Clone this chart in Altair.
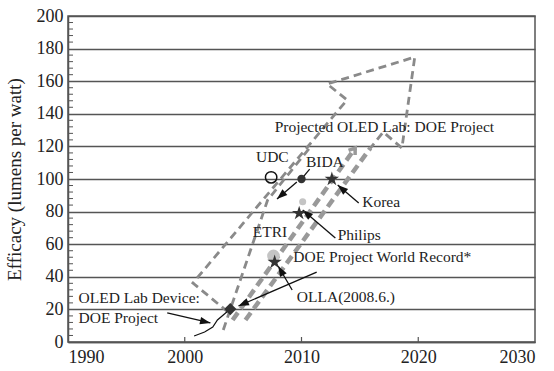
import math
import altair as alt
import pandas as pd

W, H = 467, 326
X_DOMAIN = [1990, 2030]
Y_DOMAIN = [0, 200]
PXX = W / (X_DOMAIN[1] - X_DOMAIN[0])
PXY = H / (Y_DOMAIN[1] - Y_DOMAIN[0])

x_ticks = [1990, 2000, 2010, 2020, 2030]
x_inner_ticks = [2000, 2010, 2020]
y_ticks = list(range(0, 201, 20))
y_minor = [v for v in range(0, 201, 4) if v % 20]

# dashed projection outline (big arrow)
outline_x = [2003.7, 2000.7, 2013.9, 2012.2, 2019.7, 2018.6, 2017.0, 2015.9]
outline_y = [18.4, 36.2, 148.5, 158.3, 174.8, 119.0, 128.8, 119.0]
# thick dashed trend lines
thick1_x = [2004.1, 2014.6]
thick1_y = [13.5, 119.0]
thick2_x = [2005.2, 2015.9]
thick2_y = [13.5, 119.0]
# steep dashed line
steep_x = [2003.3, 2007.1, 2010.9]
steep_y = [7.4, 87.1, 120.9]
# OLED lab device curve
device_x = [2000.8, 2001.7, 2002.4, 2002.8, 2003.4, 2003.9]
device_y = [3.7, 6.1, 9.2, 13.5, 17.2, 20.2]

# black arrows: tail -> head
arrow_x0 = [1998.5, 2009.6, 2014.9, 2012.9, 2009.2, 2011.3]
arrow_y0 = [17.8, 98.2, 85.3, 63.8, 31.9, 42.9]
arrow_x1 = [2002.2, 2007.9, 2013.1, 2010.1, 2008.0, 2004.6]
arrow_y1 = [11.7, 87.7, 96.3, 81.0, 46.6, 22.1]
# BIDA connector
conn_x = [2010.7, 2010.0]
conn_y = [106.1, 100.0]

# markers
star_x = [2012.6, 2009.8, 2007.7]
star_y = [100, 79, 49]
light_x = [2010.1, 2007.6]
light_y = [86, 52.8]
light_size = [50, 160]

label_c_text = ["UDC", "BIDA", "ETRI"]
label_c_x = [2007.5, 2012.0, 2007.3]
label_c_y = [113.5, 110.4, 67.5]
label_l_text = ["Projected OLED Lab: DOE Project", "Korea", "Philips",
                "DOE Project World Record*", "OLLA(2008.6.)",
                "OLED Lab Device:", "DOE Project"]
label_l_x = [2007.7, 2015.2, 2013.1, 2009.3, 2009.6, 1990.9, 1990.9]
label_l_y = [131.9, 85.9, 65.6, 52.1, 27.6, 27.0, 14.7]

FONT = "Liberation Serif, Times New Roman, DejaVu Serif, serif"
GRID = "#555555"
DASH = "#8a8a8a"

xs = alt.Scale(domain=X_DOMAIN, nice=False, zero=False)
ys = alt.Scale(domain=Y_DOMAIN, nice=False)

X_AXIS = alt.Axis(values=x_ticks, format="d", tickSize=0, labelPadding=6,
                  labelFont=FONT, labelFontSize=18, labelColor="#222",
                  domainColor=GRID, domainWidth=1.5, grid=False, labelOverlap=False)
Y_AXIS = alt.Axis(values=y_ticks, tickSize=0, labelPadding=5,
                  labelFont=FONT, labelFontSize=18, labelColor="#222",
                  titleFont=FONT, titleFontSize=19, titleFontWeight="normal",
                  titleColor="#222", titlePadding=12, labelOverlap=False,
                  domainColor=GRID, domainWidth=1.5,
                  grid=True, gridColor=GRID, gridWidth=1.5)
YTITLE = "Efficacy (lumens per watt)"


def XE(f="x:Q"):
    return alt.X(f, scale=xs, title=None, axis=X_AXIS)


def YE(f="y:Q"):
    return alt.Y(f, scale=ys, title=YTITLE, axis=Y_AXIS)


def path_df(xv, yv):
    return pd.DataFrame({"x": xv, "y": yv, "o": list(range(len(xv)))})


def line_layer(df, color, width, dash=None):
    kw = dict(color=color, strokeWidth=width, clip=False)
    if dash:
        kw["strokeDash"] = dash
    return alt.Chart(df).mark_line(**kw).encode(x=XE(), y=YE(), order="o:O")


minor = alt.Chart(pd.DataFrame({"y": y_minor})).mark_rule(color=GRID, strokeWidth=1).encode(
    y=YE(), x=alt.value(0), x2=alt.value(5))
xt = alt.Chart(pd.DataFrame({"x": x_inner_ticks})).mark_rule(color=GRID, strokeWidth=1.2).encode(
    x=XE(), y=alt.value(H), y2=alt.value(H - 5))

layers = [minor, xt,
          line_layer(path_df(outline_x, outline_y), DASH, 2.8, [8, 5]),
          line_layer(path_df(steep_x, steep_y), DASH, 2.8, [8, 5]),
          line_layer(path_df(thick1_x, thick1_y), "#999999", 4.5, [9, 5]),
          line_layer(path_df(thick2_x, thick2_y), "#999999", 4.5, [9, 5]),
          line_layer(path_df(device_x, device_y), "#111111", 1.2),
          line_layer(path_df(conn_x, conn_y), "#111111", 1.2)]

# chevron at top of thick line
dxp = (thick1_x[1] - thick1_x[0]) * PXX
dyp = -(thick1_y[1] - thick1_y[0]) * PXY
chev_angle = math.degrees(math.atan2(dxp, -dyp)) % 360
layers.append(alt.Chart(pd.DataFrame({"x": [thick1_x[1]], "y": [thick1_y[1]]})).mark_point(
    shape="M-0.9,1.3 L0,0 L0.9,1.3", filled=False, color="#999999", strokeWidth=3.5,
    size=80, angle=chev_angle, opacity=1).encode(x=XE(), y=YE()))

# black arrows
for x0, y0, x1, y1 in zip(arrow_x0, arrow_y0, arrow_x1, arrow_y1):
    dxp = (x1 - x0) * PXX
    dyp = -(y1 - y0) * PXY
    ang = math.degrees(math.atan2(dxp, -dyp)) % 360
    seg = pd.DataFrame({"x": [x0], "y": [y0], "x2": [x1], "y2": [y1]})
    layers.append(alt.Chart(seg).mark_rule(color="#111111", strokeWidth=1.3).encode(
        x=XE(), y=YE(), x2="x2:Q", y2="y2:Q"))
    layers.append(alt.Chart(pd.DataFrame({"x": [x1], "y": [y1]})).mark_point(
        shape="M0,0 L-0.8,2.2 L0.8,2.2 Z", filled=True, color="#111111", size=90,
        angle=ang, opacity=1).encode(x=XE(), y=YE()))


def pt(xv, yv, **kw):
    return alt.Chart(pd.DataFrame({"x": xv, "y": yv})).mark_point(opacity=1, **kw).encode(
        x=XE(), y=YE())


layers += [
    alt.Chart(pd.DataFrame({"x": light_x, "y": light_y, "s": light_size})).mark_point(
        filled=True, color="#c4c4c4", opacity=1, shape="circle").encode(
        x=XE(), y=YE(), size=alt.Size("s:Q", scale=None, legend=None)),
    pt([2003.9], [20.2], shape="diamond", filled=True, color="#333333", size=150),
    pt([2007.4], [101], shape="circle", filled=False, color="#111111", size=130, strokeWidth=1.5),
    pt([2010.0], [100], shape="circle", filled=True, color="#333333", size=70),
    pt(star_x, star_y,
       shape="M0,-1 L0.22,-0.31 L0.95,-0.31 L0.36,0.12 L0.59,0.81 L0,0.38 L-0.59,0.81 L-0.36,0.12 L-0.95,-0.31 L-0.22,-0.31 Z",
       filled=True, color="#333333", size=230),
]

layers.append(alt.Chart(pd.DataFrame({"t": label_c_text, "x": label_c_x, "y": label_c_y})).mark_text(
    font=FONT, fontSize=15.5, color="#222", align="center", baseline="middle").encode(
    x=XE(), y=YE(), text="t:N"))
layers.append(alt.Chart(pd.DataFrame({"t": label_l_text, "x": label_l_x, "y": label_l_y})).mark_text(
    font=FONT, fontSize=15.5, color="#222", align="left", baseline="middle").encode(
    x=XE(), y=YE(), text="t:N"))

chart = alt.layer(*layers).properties(
    width=W, height=H,
    padding={"left": 68, "top": 16, "right": 19, "bottom": 29},
    autosize=alt.AutoSizeParams(type="none"),
    background="white",
).configure_view(stroke=GRID, strokeWidth=1.5)

chart.save("out.html", embed_options={"renderer": "svg", "actions": False})
